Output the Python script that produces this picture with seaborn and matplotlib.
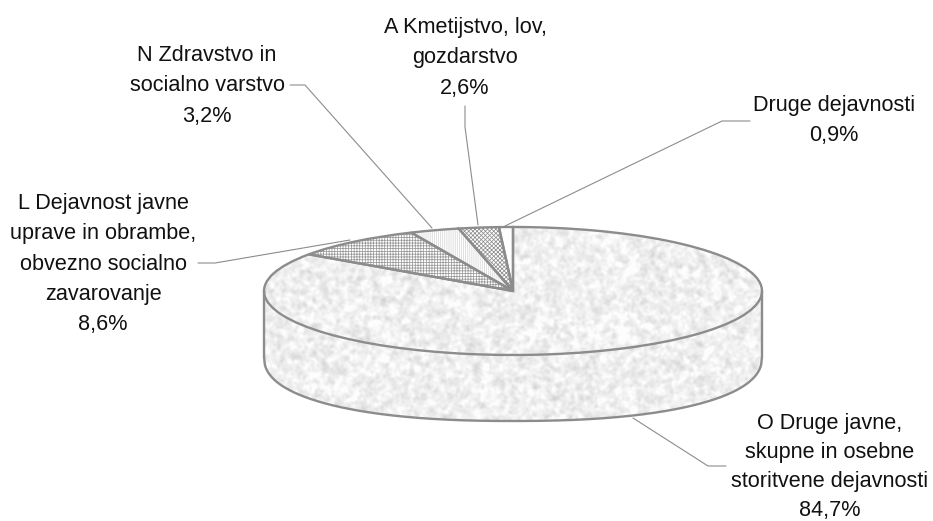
import numpy as np
import matplotlib
matplotlib.use("Agg")
import matplotlib.pyplot as plt
import seaborn as sns

labels = ["O Druge javne,\nskupne in osebne\nstoritvene dejavnosti",
          "L Dejavnost javne\nuprave in obrambe,\nobvezno socialno\nzavarovanje",
          "N Zdravstvo in\nsocialno varstvo",
          "A Kmetijstvo, lov,\ngozdarstvo",
          "Druge dejavnosti"]
values = [84.7, 8.6, 3.2, 2.6, 0.9]
value_text = ["84,7%", "8,6%", "3,2%", "2,6%", "0,9%"]
hatches = [None, "++++++", "||||||||", "xxxxxxxx", None]
hatch_colors = ["white", "#9a9a9a", "#d8d8d8", "#8f8f8f", "white"]

W, H = 933, 521
CX, CY, RX, RY = 513, 291, 249, 64
DEPTH = 66 / RY
EDGE = "#8c8c8c"

sns.set_theme(style="white")
plt.rcParams["font.family"] = ["Liberation Sans", "DejaVu Sans"]
plt.rcParams["hatch.linewidth"] = 0.55

def dx(px):
    return (px - CX) / RX
def dy(py):
    return (CY - py) / RY

fig = plt.figure(figsize=(W / 100, H / 100), dpi=100, facecolor="white")
ax = fig.add_axes([0, 0, 1, 1])

# side wall of the cylinder
xs = np.linspace(-1, 1, 600)
front = -np.sqrt(1 - xs ** 2)
lower = -(1 - np.abs(xs) ** 2.3) ** (1 / 2.3) - DEPTH
wall = ax.fill_between(xs, front, lower, facecolor="none", edgecolor="none", zorder=1)

# pie surface: fill and hatch layer, then outlines
fill, _ = ax.pie(values, startangle=90, counterclock=False, radius=1, hatch=hatches,
                 colors=["white"] * len(values), wedgeprops={"linewidth": 0, "zorder": 3})
for w, c in zip(fill, hatch_colors):
    w.set_edgecolor(c)
    w.set_linewidth(0)
outline, _ = ax.pie(values, startangle=90, counterclock=False, radius=1,
                    colors=["none"] * len(values),
                    wedgeprops={"linewidth": 1.7, "edgecolor": EDGE, "zorder": 5})
ax.set_aspect("auto")
ax.axis("off")

# mottled paper-like texture (pixel hash, smoothed)
yy, xx = np.mgrid[0:H + 40, 0:W + 40]
h = np.sin(xx * 12.9898 + yy * 78.233) * 43758.5453
h = h - np.floor(h)
def smooth(a, n):
    k = np.ones(n) / n
    a = np.apply_along_axis(lambda v: np.convolve(v, k, mode="same"), 0, a)
    return np.apply_along_axis(lambda v: np.convolve(v, k, mode="same"), 1, a)
h1 = smooth(smooth(h, 3), 3)[20:-20, 20:-20]
h2 = smooth(smooth(h, 7), 5)[20:-20, 20:-20]
tex = (h1 - h1.mean()) / h1.std() * 0.02 + (h2 - h2.mean()) / h2.std() * 0.012 + 0.94
tex = np.clip(tex, 0.82, 0.99)
extent = (dx(0), dx(W), dy(H), dy(0))
for clip in (wall.get_paths()[0], fill[0]):
    im = ax.imshow(tex, cmap="gray", vmin=0, vmax=1, extent=extent, aspect="auto",
                   origin="upper", interpolation="nearest", zorder=4)
    if clip is fill[0]:
        im.set_clip_path(clip)
    else:
        im.set_clip_path(clip, ax.transData)
ax.set_xlim(dx(0), dx(W))
ax.set_ylim(dy(H), dy(0))

# wall outline
ax.plot(xs, lower, color=EDGE, lw=1.7, zorder=6)
ax.plot([-1, -1], [0, -DEPTH], color=EDGE, lw=1.7, zorder=6)
ax.plot([1, 1], [0, -DEPTH], color=EDGE, lw=1.7, zorder=6)

# leader lines (pixel layout)
leaders = [[(633, 418), (708, 466), (726, 466)],
           [(350, 240), (215, 263), (198, 263)],
           [(432, 228), (305, 85), (290, 85)],
           [(478, 225), (465, 127), (465, 106)],
           [(505, 226), (722, 121), (750, 121)]]
for pts in leaders:
    ax.plot([dx(p[0]) for p in pts], [dy(p[1]) for p in pts], color=EDGE, lw=0.8, zorder=2)

# labels (centre x, top y in pixels, line spacing)
anchors = [(830, 412.5, 1.51), (103, 193, 1.58), (207, 45, 1.58), (465, 17, 1.58), (834, 95, 1.58)]
for lab, val, (x, y, sp) in zip(labels, value_text, anchors):
    ax.text(dx(x), dy(y), lab + "\n" + val, ha="center", va="top", fontsize=15.6,
            linespacing=sp, color="#111111", zorder=7)

fig.savefig("out.png", dpi=100, facecolor="white")
